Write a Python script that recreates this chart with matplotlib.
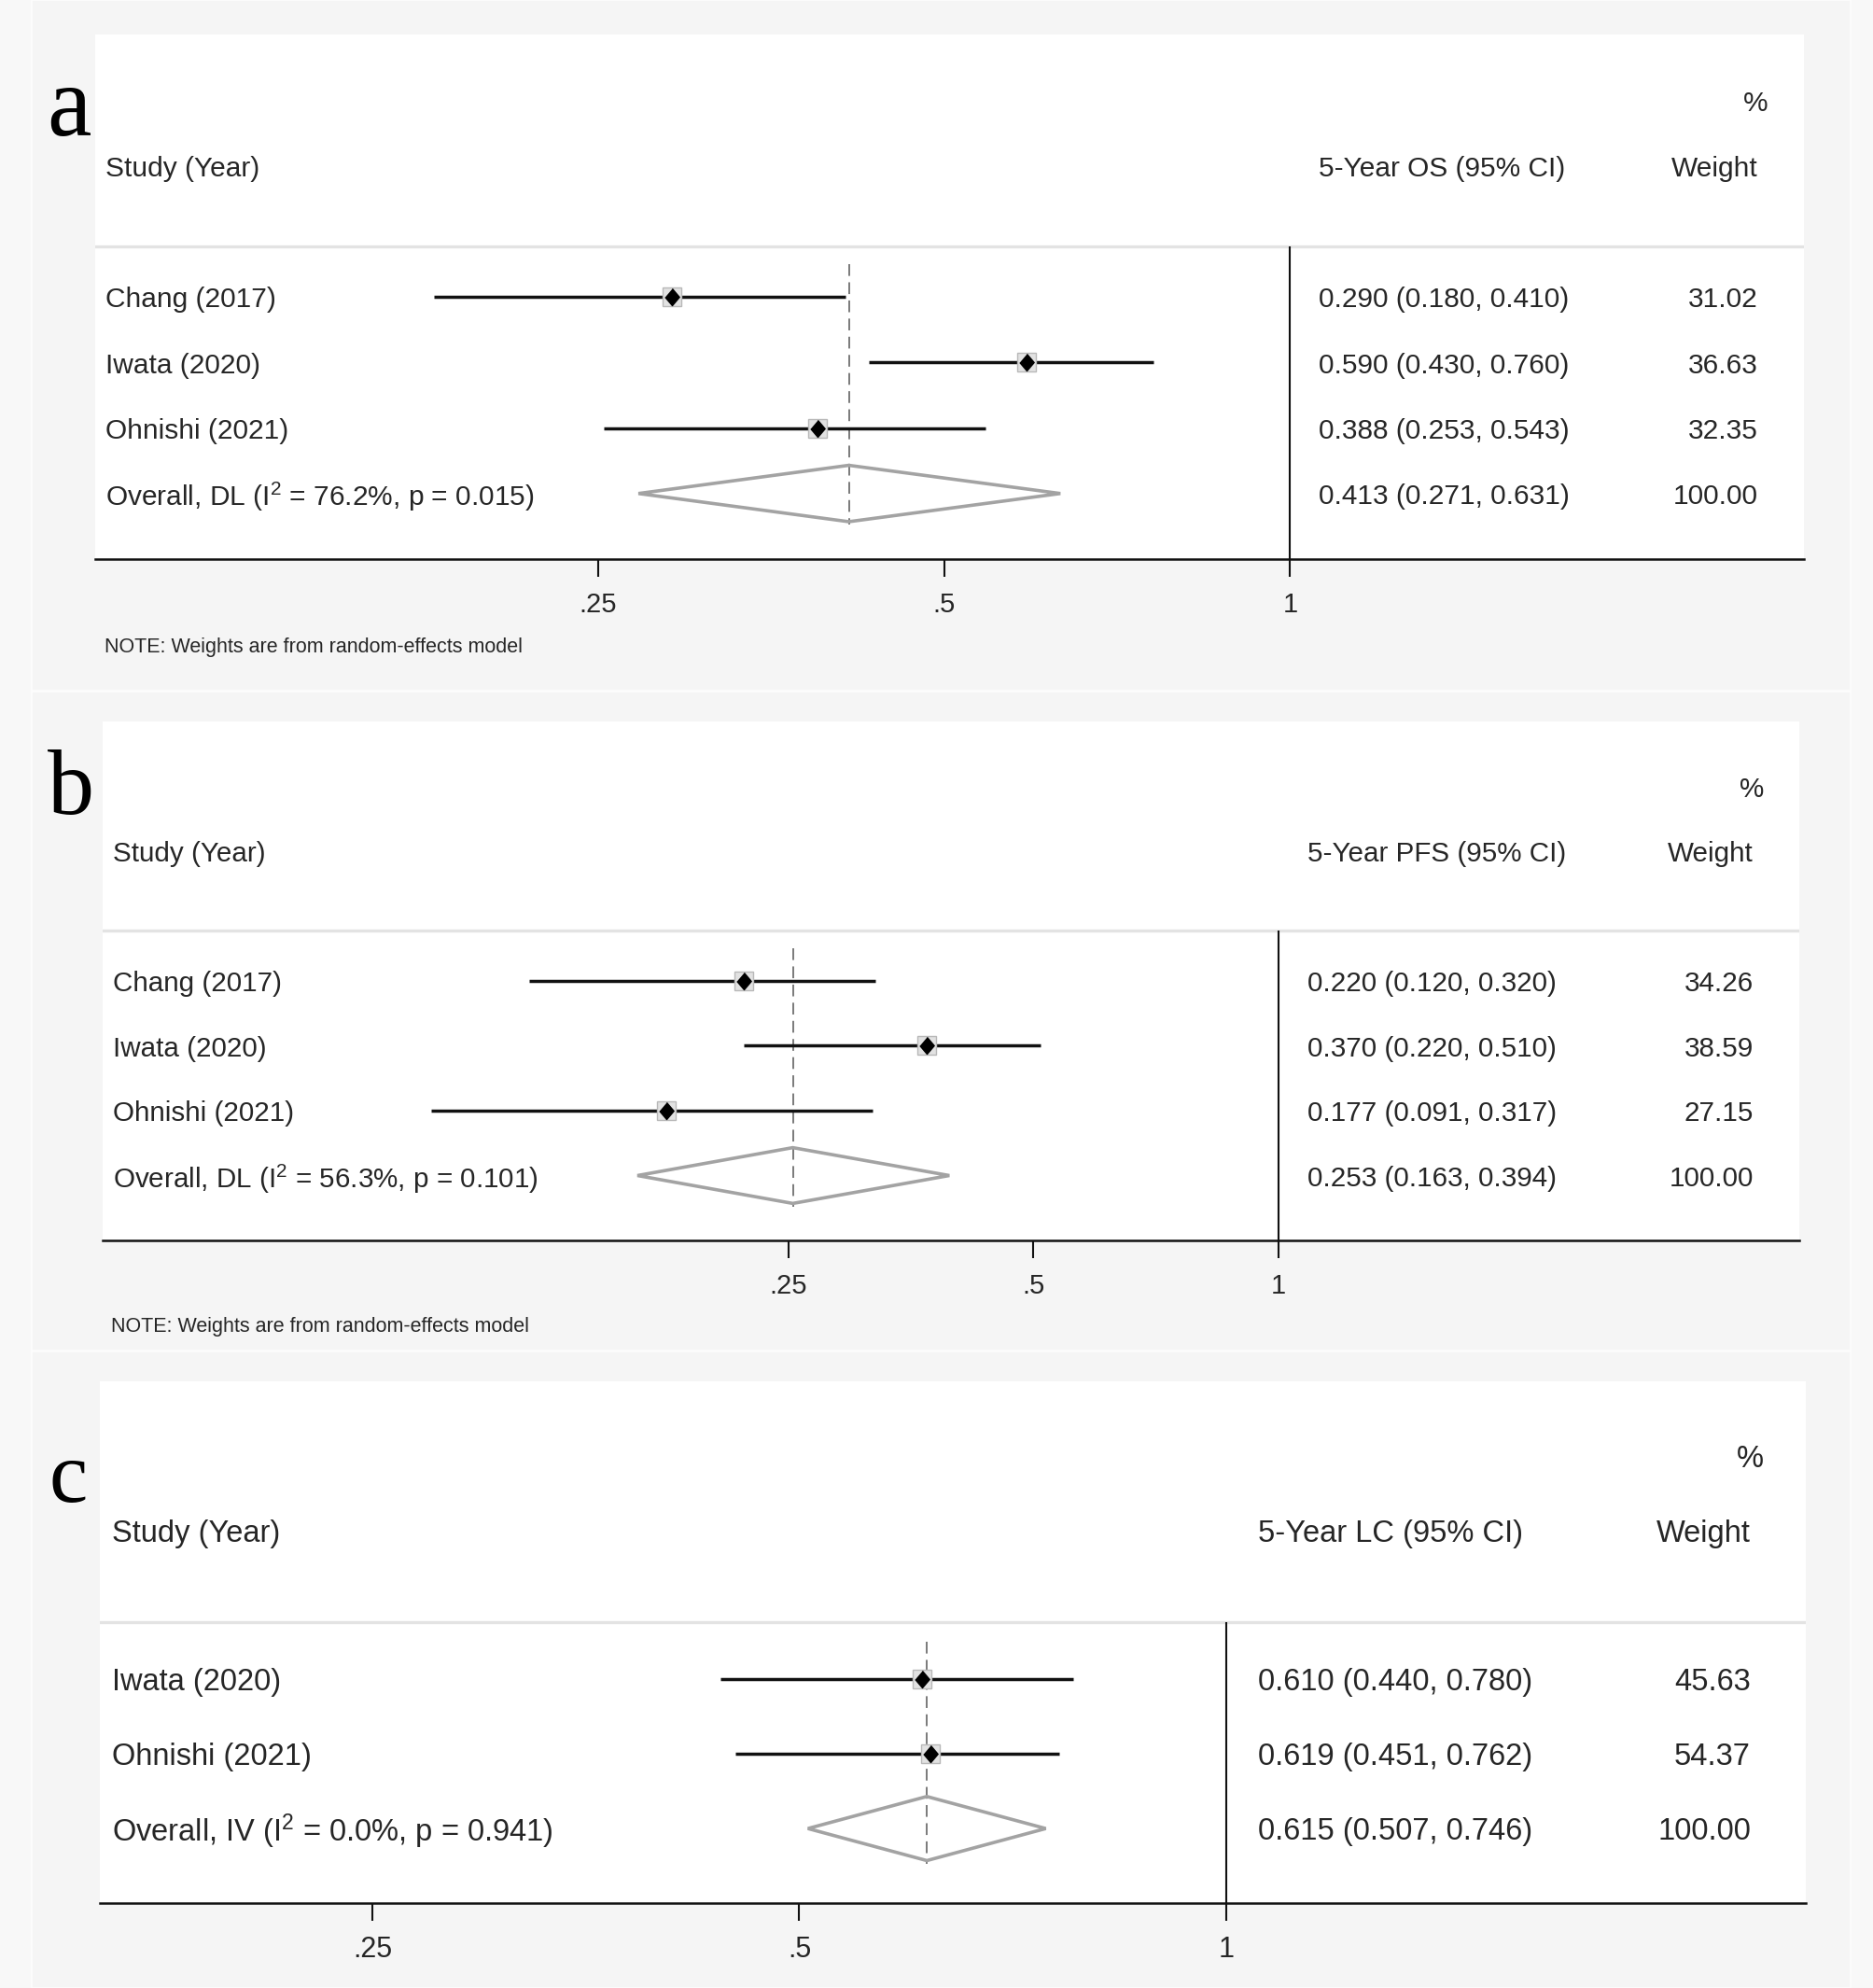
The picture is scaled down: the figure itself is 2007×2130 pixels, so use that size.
import matplotlib
matplotlib.use("Agg")
import matplotlib.pyplot as plt
from matplotlib.transforms import blended_transform_factory, offset_copy
from matplotlib.patches import Polygon, Rectangle
from matplotlib.ticker import NullLocator, FixedLocator, FixedFormatter

# ---------------- data ----------------
# Panel a: 5-year overall survival
a_studies = ["Chang (2017)", "Iwata (2020)", "Ohnishi (2021)"]
a_est = [0.290, 0.590, 0.388]
a_lo = [0.180, 0.430, 0.253]
a_hi = [0.410, 0.760, 0.543]
a_wt = [31.02, 36.63, 32.35]
a_overall = [0.413, 0.271, 0.631]
a_overall_label = "Overall, DL (I$^{2}$ = 76.2%, p = 0.015)"
a_header = "5-Year OS (95% CI)"

# Panel b: 5-year progression-free survival
b_studies = ["Chang (2017)", "Iwata (2020)", "Ohnishi (2021)"]
b_est = [0.220, 0.370, 0.177]
b_lo = [0.120, 0.220, 0.091]
b_hi = [0.320, 0.510, 0.317]
b_wt = [34.26, 38.59, 27.15]
b_overall = [0.253, 0.163, 0.394]
b_overall_label = "Overall, DL (I$^{2}$ = 56.3%, p = 0.101)"
b_header = "5-Year PFS (95% CI)"

# Panel c: 5-year local control
c_studies = ["Iwata (2020)", "Ohnishi (2021)"]
c_est = [0.610, 0.619]
c_lo = [0.440, 0.451]
c_hi = [0.780, 0.762]
c_wt = [45.63, 54.37]
c_overall = [0.615, 0.507, 0.746]
c_overall_label = "Overall, IV (I$^{2}$ = 0.0%, p = 0.941)"
c_header = "5-Year LC (95% CI)"

tick_values = [0.25, 0.5, 1]
tick_labels = [".25", ".5", "1"]
note_text = "NOTE: Weights are from random-effects model"

# ---------------- style ----------------
plt.rcParams["font.family"] = ["Liberation Sans", "DejaVu Sans"]
plt.rcParams["mathtext.fontset"] = "custom"
plt.rcParams["mathtext.rm"] = "Liberation Sans"
plt.rcParams["mathtext.it"] = "Liberation Sans:italic"
plt.rcParams["mathtext.bf"] = "Liberation Sans:bold"

W, H, DPI = 2008, 2130, 100
TXT = "#262626"

fig = plt.figure(figsize=(W / DPI, H / DPI), dpi=DPI, facecolor="#f8f8f8")


def fx(px):
    return px / W


def fy(py):
    return 1 - py / H


# background strips (three stacked images)
for y0, y1 in [(0, 740), (741, 1447), (1448, 2130)]:
    fig.patches.append(Rectangle((fx(34), fy(y1)), fx(1983) - fx(34), fy(y0) - fy(y1),
                                 transform=fig.transFigure, facecolor="#f5f5f5",
                                 edgecolor="#fdfdfd", lw=1.2, zorder=-5))

diamond_marker = [(0, 1), (0.85, 0), (0, -1), (-0.85, 0)]


def draw_panel(letter, letter_xy, letter_fs, left, right, top, axis_y, p25, p1,
               studies, est, lo, hi, wt, overall, overall_label, header,
               fs, tick_fs, study_x, val_x, wt_x, pct_x, note_xy=None):
    n = len(studies) + 1
    ax = fig.add_axes([fx(left), fy(axis_y), fx(right) - fx(left), (axis_y - top) / H])
    ax.set_zorder(2)
    ax.set_facecolor("white")
    ax.set_xscale("log", base=2)
    per_oct = (p1 - p25) / 2.0
    ax.set_xlim(0.25 * 2 ** ((left - p25) / per_oct), 0.25 * 2 ** ((right - p25) / per_oct))
    ax.set_ylim(n + 1, -3)

    for s in ["top", "left", "right"]:
        ax.spines[s].set_visible(False)
    ax.spines["bottom"].set_linewidth(1.8)
    ax.spines["bottom"].set_color("#111111")
    ax.set_yticks([])
    ax.xaxis.set_major_locator(FixedLocator(tick_values))
    ax.xaxis.set_major_formatter(FixedFormatter(tick_labels))
    ax.xaxis.set_minor_locator(NullLocator())
    ax.tick_params(axis="x", direction="out", length=14, width=1.5, pad=11,
                   labelsize=tick_fs, color="#111111", labelcolor=TXT)

    ys = list(range(1, n))
    # header separator
    ax.axhline(0.23, color="#e3e3e3", lw=2.4, zorder=1)
    # null line
    ax.vlines(1, 0.23, n + 1, color="#111111", lw=1.5, zorder=2)
    # overall dashed line
    ax.vlines(overall[0], 0.5, n + 0.48, color="#7a7a7a", lw=1.4,
              linestyles=(0, (6.5, 3.5)), zorder=2)
    # CIs
    ax.hlines(ys, lo, hi, color="#111111", lw=2.5, zorder=3)
    ax.plot(est, ys, linestyle="none", marker="s", ms=14, mfc="#e2e2e2",
            mec="#b8b8b8", mew=1.0, zorder=4)
    ax.plot(est, ys, linestyle="none", marker=diamond_marker, ms=13,
            color="black", zorder=5)
    # overall diamond
    e, l, h = overall
    ax.add_patch(Polygon([(l, n), (e, n - 0.43), (h, n), (e, n + 0.43)], closed=True,
                         fill=False, edgecolor="#a3a3a3", lw=2.6, zorder=4))

    tr0 = blended_transform_factory(fig.transFigure, ax.transData)
    tr = offset_copy(tr0, fig=fig, x=0, y=-2.5, units="points")
    kw = dict(transform=tr, va="center", fontsize=fs, color=TXT)
    ax.text(fx(study_x), -1, "Study (Year)", ha="left", **kw)
    ax.text(fx(val_x), -1, header, ha="left", **kw)
    ax.text(fx(wt_x), -1, "Weight", ha="right", **kw)
    ax.text(fx(pct_x), -2, "%", ha="right", **kw)
    for y, s, e_, l_, h_, w_ in zip(ys, studies, est, lo, hi, wt):
        ax.text(fx(study_x), y, s, ha="left", **kw)
        ax.text(fx(val_x), y, f"{e_:.3f} ({l_:.3f}, {h_:.3f})", ha="left", **kw)
        ax.text(fx(wt_x), y, f"{w_:.2f}", ha="right", **kw)
    ax.text(fx(study_x), n, overall_label, ha="left", **kw)
    ax.text(fx(val_x), n, f"{e:.3f} ({l:.3f}, {h:.3f})", ha="left", **kw)
    ax.text(fx(wt_x), n, f"{sum(wt):.2f}", ha="right", **kw)

    fig.text(fx(letter_xy[0]), fy(letter_xy[1]), letter, family="Liberation Serif",
             fontsize=letter_fs, ha="left", va="baseline", color="black", zorder=3)
    if note_xy is not None:
        fig.text(fx(note_xy[0]), fy(note_xy[1]), note_text, fontsize=15.5,
                 ha="left", va="center", color=TXT, zorder=3)
    return ax


draw_panel("a", (50, 145), 77, 102, 1933, 37, 599, 641, 1382.5,
           a_studies, a_est, a_lo, a_hi, a_wt, a_overall, a_overall_label, a_header,
           21.5, 21, 113, 1413, 1884, 1895, note_xy=(112, 694))

draw_panel("b", (51, 872), 72, 110, 1928, 773, 1329, 845, 1370,
           b_studies, b_est, b_lo, b_hi, b_wt, b_overall, b_overall_label, b_header,
           21.3, 21, 121, 1401, 1879, 1890, note_xy=(119, 1421))

draw_panel("c", (52, 1609), 67, 107, 1935, 1480, 2039, 399, 1314,
           c_studies, c_est, c_lo, c_hi, c_wt, c_overall, c_overall_label, c_header,
           23.5, 22, 120, 1348, 1876, 1890)

fig.savefig("out.png", dpi=DPI, facecolor=fig.get_facecolor())
